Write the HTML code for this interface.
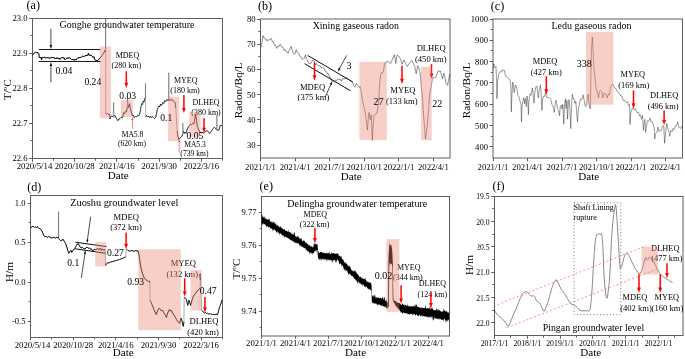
<!DOCTYPE html><html><head><meta charset="utf-8"><style>html,body{margin:0;padding:0;background:#fff}svg{display:block;font-family:"Liberation Serif",serif;will-change:transform}</style></head><body>
<svg width="685" height="359" viewBox="0 0 685 359">
<rect width="685" height="359" fill="#fff"/>
<line x1="32" y1="18.5" x2="223" y2="18.5" stroke="#5e5e5e" stroke-width="1" />
<line x1="32" y1="158.5" x2="223" y2="158.5" stroke="#5e5e5e" stroke-width="1" />
<line x1="32.5" y1="18.5" x2="32.5" y2="158.5" stroke="#5e5e5e" stroke-width="1" />
<line x1="222.5" y1="18.5" x2="222.5" y2="158.5" stroke="#5e5e5e" stroke-width="1" />
<line x1="32.5" y1="158.5" x2="32.5" y2="161.8" stroke="#5e5e5e" stroke-width="1" />
<line x1="74.5" y1="158.5" x2="74.5" y2="161.8" stroke="#5e5e5e" stroke-width="1" />
<line x1="116.5" y1="158.5" x2="116.5" y2="161.8" stroke="#5e5e5e" stroke-width="1" />
<line x1="159.5" y1="158.5" x2="159.5" y2="161.8" stroke="#5e5e5e" stroke-width="1" />
<line x1="201.5" y1="158.5" x2="201.5" y2="161.8" stroke="#5e5e5e" stroke-width="1" />
<line x1="53.5" y1="158.5" x2="53.5" y2="160.7" stroke="#5e5e5e" stroke-width="1" />
<line x1="95.5" y1="158.5" x2="95.5" y2="160.7" stroke="#5e5e5e" stroke-width="1" />
<line x1="138.5" y1="158.5" x2="138.5" y2="160.7" stroke="#5e5e5e" stroke-width="1" />
<line x1="180.5" y1="158.5" x2="180.5" y2="160.7" stroke="#5e5e5e" stroke-width="1" />
<line x1="222.5" y1="158.5" x2="222.5" y2="160.7" stroke="#5e5e5e" stroke-width="1" />
<line x1="32.5" y1="18.5" x2="29.2" y2="18.5" stroke="#5e5e5e" stroke-width="1" />
<line x1="32.5" y1="53.5" x2="29.2" y2="53.5" stroke="#5e5e5e" stroke-width="1" />
<line x1="32.5" y1="88.5" x2="29.2" y2="88.5" stroke="#5e5e5e" stroke-width="1" />
<line x1="32.5" y1="123.5" x2="29.2" y2="123.5" stroke="#5e5e5e" stroke-width="1" />
<line x1="32.5" y1="158.5" x2="29.2" y2="158.5" stroke="#5e5e5e" stroke-width="1" />
<line x1="32.5" y1="35.5" x2="30.3" y2="35.5" stroke="#5e5e5e" stroke-width="1" />
<line x1="32.5" y1="70.5" x2="30.3" y2="70.5" stroke="#5e5e5e" stroke-width="1" />
<line x1="32.5" y1="105.5" x2="30.3" y2="105.5" stroke="#5e5e5e" stroke-width="1" />
<line x1="32.5" y1="140.5" x2="30.3" y2="140.5" stroke="#5e5e5e" stroke-width="1" />
<text x="34.5" y="168.9" font-size="8.8" text-anchor="middle" fill="#000" >2020/5/14</text>
<text x="74.7" y="168.9" font-size="8.8" text-anchor="middle" fill="#000" >2020/10/28</text>
<text x="116.9" y="168.9" font-size="8.8" text-anchor="middle" fill="#000" >2021/4/16</text>
<text x="159.2" y="168.9" font-size="8.8" text-anchor="middle" fill="#000" >2021/9/30</text>
<text x="201.4" y="168.9" font-size="8.8" text-anchor="middle" fill="#000" >2022/3/16</text>
<text x="27.5" y="21.1" font-size="8.6" text-anchor="end" fill="#000" >23.0</text>
<text x="27.5" y="56.1" font-size="8.6" text-anchor="end" fill="#000" >22.9</text>
<text x="27.5" y="91.1" font-size="8.6" text-anchor="end" fill="#000" >22.8</text>
<text x="27.5" y="126" font-size="8.6" text-anchor="end" fill="#000" >22.7</text>
<text x="27.5" y="161" font-size="8.6" text-anchor="end" fill="#000" >22.6</text>
<text x="33.2" y="9.4" font-size="12.2" text-anchor="middle" fill="#000" >(a)</text>
<text x="127" y="28.3" font-size="10" text-anchor="middle" fill="#000" >Gonghe groundwater temperature</text>
<text x="118.2" y="179.1" font-size="11.1" text-anchor="middle" fill="#000" >Date</text>
<text transform="translate(11.3,89.7) rotate(-90)" font-size="11.3" text-anchor="middle">T/<tspan font-size="7" dy="-4">o</tspan><tspan dy="4">C</tspan></text>
<polyline points="32.5,55.3 33.5,54 34.5,52.8 35.2,52.1 36,52.4 37,53 38,52.6 38.8,53.5 39.2,57.3 40,58 41,57 41.5,60 42,57.5 43,58 44,57 45,57.5 46,58.2 47,57.3 48,58 49,57.6 50,58.5 51,57.2 52,58 53,57 54,58.4 55,57.8 56,59 57,57.5 58,58.8 59,57.9 60,59.5 61,58 62,57 63,58.2 64,57.5 65,59.8 66,58.6 67,57.8 68,58.5 69,57.6 70,58 71,58.9 72,60 73,59 74,60.4 75,59 76,60.2 77,58.5 78,57.5 79,58.3 80,57 81,57.8 82,56.5 83,56 84,56.8 85,55.5 86,56 87,54.8 88,55.5 88.5,53.4 89,55 90,55.6 91,54.9 92,56 93,57.5 94,56.6 94.5,59 95,60 96,60.5 97.3,60.8 98,60 99,59.3 100,58" fill="none" stroke="#000" stroke-width="0.33" stroke-linejoin="round" />
<polyline points="32.5,55.3 33.5,54 34.5,52.8 35.2,52.1 36,52.4 37,53 38,52.6 38.8,53.5 39.2,57.3 40,58 41,57 41.5,60 42,57.5 43,58 44,57 45,57.5 46,58.2 47,57.3 48,58 49,57.6 50,58.5 51,57.2 52,58 53,57 54,58.4 55,57.8 56,59 57,57.5 58,58.8 59,57.9 60,59.5 61,58 62,57 63,58.2 64,57.5 65,59.8 66,58.6 67,57.8 68,58.5 69,57.6 70,58 71,58.9 72,60 73,59 74,60.4 75,59 76,60.2 77,58.5 78,57.5 79,58.3 80,57 81,57.8 82,56.5 83,56 84,56.8 85,55.5 86,56 87,54.8 88,55.5 88.5,53.4 89,55 90,55.6 91,54.9 92,56 93,57.5 94,56.6 94.5,59 95,60 96,60.5 97.3,60.8 98,60 99,59.3 100,58" fill="none" stroke="#000" stroke-width="0.9" stroke-linejoin="round" />
<polyline points="100,58 101,57 102,55.5 103,54 104,52.5 105,50.5 105.5,51.5 105.7,18.5 105.8,113.7 106.5,114 107.5,113.5 108.5,114.5 109.6,114 110,119 110.8,116.5 112,116 113.2,117 113.6,102.5 113.9,116.5 115,115.5 116,118 116.9,118.9 117.8,120.7 119,119 120,118.5 121,117.5 122.5,117.7 123.7,112.5 124.5,113.5 125.5,111.5 126.3,112 127.2,108.4 127.6,96.7 127.9,108 128.6,106 129.5,103.7 130,107 131,111 132.4,116 133,115 134.2,117.7 135.5,116.5 136.5,117 137.5,115.5 138.5,116 139.4,114.8 140.2,112 141,107 141.8,103.7 142.5,104.5 143.2,101 144,102 144.6,99 145.3,97.9 145.5,83.5 145.7,116.6 146.5,115.5 147.5,117 148.5,116 149.5,117.5 150.5,116.2 151.5,117.8 152.5,116.5 153.5,117.6 154.5,118.6 155.8,117 156.5,114 157.2,110 158.7,106 159.5,107 160.5,104 161.5,105.5 162.8,102.5 163.8,103.5 164.8,100.5 165.8,101.5 166.9,99.6 167.8,100.5 168.5,99 168.8,72.5 169.1,101 170,99.5 171,100.2 172,99.7 173,101 174,101.5 175.1,102.6 175.8,108 176.5,120 177.2,131 177.8,136 178.7,139.6 179.5,138.5 180.3,137.8 181,137.3 182,136 182.6,134 182.8,123 183.2,131 184,133.6 185,132 186,133.5 187,130 187.8,128 188.6,126.6 189.5,125.5 190.4,124.2 191.5,124.8 192.5,123.5 193.9,123.7 194.6,120 195.6,114.3 196.2,118 196.8,123 197.4,126.6 198.3,129 199.3,131 200.3,132.4 201.5,133 202.5,132 203.5,133.2 205,131.8 206,131 207.3,130.7 208.5,132 209.6,133.6 210.8,132 212,130 213.2,128.5 214.3,127.2 215.5,128.5 216.6,130 216.9,114.9 217.2,130 218,130.5 219,130 219.6,128 220.2,125.4 221,126 222,125" fill="none" stroke="#000" stroke-width="0.33" stroke-linejoin="round" />
<polyline points="100,58 101,57 102,55.5 103,54 104,52.5 105,50.5 105.5,51.5" fill="none" stroke="#000" stroke-width="0.62" stroke-linejoin="round" />
<polyline points="105.8,113.7 106.5,114 107.5,113.5 108.5,114.5 109.6,114 110,119 110.8,116.5 112,116 113.2,117" fill="none" stroke="#000" stroke-width="0.62" stroke-linejoin="round" />
<polyline points="113.9,116.5 115,115.5 116,118 116.9,118.9 117.8,120.7 119,119 120,118.5 121,117.5 122.5,117.7 123.7,112.5 124.5,113.5 125.5,111.5 126.3,112 127.2,108.4" fill="none" stroke="#000" stroke-width="0.62" stroke-linejoin="round" />
<polyline points="127.9,108 128.6,106 129.5,103.7 130,107 131,111 132.4,116 133,115 134.2,117.7 135.5,116.5 136.5,117 137.5,115.5 138.5,116 139.4,114.8 140.2,112 141,107 141.8,103.7 142.5,104.5 143.2,101 144,102 144.6,99 145.3,97.9" fill="none" stroke="#000" stroke-width="0.62" stroke-linejoin="round" />
<polyline points="145.7,116.6 146.5,115.5 147.5,117 148.5,116 149.5,117.5 150.5,116.2 151.5,117.8 152.5,116.5 153.5,117.6 154.5,118.6 155.8,117 156.5,114 157.2,110 158.7,106 159.5,107 160.5,104 161.5,105.5 162.8,102.5 163.8,103.5 164.8,100.5 165.8,101.5 166.9,99.6 167.8,100.5 168.5,99" fill="none" stroke="#000" stroke-width="0.62" stroke-linejoin="round" />
<polyline points="169.1,101 170,99.5 171,100.2 172,99.7 173,101 174,101.5 175.1,102.6 175.8,108" fill="none" stroke="#000" stroke-width="0.62" stroke-linejoin="round" />
<polyline points="177.2,131 177.8,136 178.7,139.6 179.5,138.5 180.3,137.8 181,137.3 182,136 182.6,134" fill="none" stroke="#000" stroke-width="0.62" stroke-linejoin="round" />
<polyline points="183.2,131 184,133.6 185,132 186,133.5 187,130 187.8,128 188.6,126.6 189.5,125.5 190.4,124.2 191.5,124.8 192.5,123.5 193.9,123.7 194.6,120 195.6,114.3 196.2,118 196.8,123 197.4,126.6 198.3,129 199.3,131 200.3,132.4 201.5,133 202.5,132 203.5,133.2 205,131.8 206,131 207.3,130.7 208.5,132 209.6,133.6 210.8,132 212,130 213.2,128.5 214.3,127.2 215.5,128.5 216.6,130" fill="none" stroke="#000" stroke-width="0.62" stroke-linejoin="round" />
<polyline points="217.2,130 218,130.5 219,130 219.6,128 220.2,125.4 221,126 222,125" fill="none" stroke="#000" stroke-width="0.62" stroke-linejoin="round" />
<line x1="38.8" y1="49.5" x2="100.6" y2="49.5" stroke="#000" stroke-width="0.9" />
<line x1="38.8" y1="61.5" x2="100.6" y2="61.5" stroke="#000" stroke-width="0.9" />
<line x1="50.9" y1="28.8" x2="50.9" y2="45.5" stroke="#000" stroke-width="0.7" />
<polygon points="50.9,49 49.7,45 52.1,45" fill="#000"/>
<line x1="50.9" y1="82.2" x2="50.9" y2="65.5" stroke="#000" stroke-width="0.7" />
<polygon points="50.9,62 52.1,66 49.7,66" fill="#000"/>
<text x="127.5" y="58.2" font-size="8" text-anchor="middle" fill="#000" >MDEQ</text>
<text x="126.3" y="68.3" font-size="8" text-anchor="middle" fill="#000" >(280 km)</text>
<line x1="126.3" y1="71.4" x2="126.3" y2="83.3" stroke="#f00" stroke-width="1.5" />
<polygon points="126.3,88 124.4,82.8 128.2,82.8" fill="#f00"/>
<text x="185.7" y="83.1" font-size="8" text-anchor="middle" fill="#000" >MYEQ</text>
<text x="185" y="92.8" font-size="8" text-anchor="middle" fill="#000" >(180 km)</text>
<line x1="183.9" y1="94.9" x2="183.9" y2="108.4" stroke="#f00" stroke-width="1.5" />
<polygon points="183.9,113.1 182,107.9 185.8,107.9" fill="#f00"/>
<text x="206.1" y="104.9" font-size="8" text-anchor="middle" fill="#000" >DLHEQ</text>
<text x="206" y="114.9" font-size="8" text-anchor="middle" fill="#000" >(380 km)</text>
<line x1="204" y1="118.2" x2="204" y2="128.3" stroke="#f00" stroke-width="1.5" />
<polygon points="204,133 202.1,127.8 205.9,127.8" fill="#f00"/>
<text x="132.5" y="137.3" font-size="7.6" text-anchor="middle" fill="#000" >MA5.8</text>
<text x="132" y="146.3" font-size="7.6" text-anchor="middle" fill="#000" >(620 km)</text>
<line x1="132.4" y1="128.9" x2="132.4" y2="119.5" stroke="#f33" stroke-width="0.6" />
<polygon points="132.4,117 133.3,120 131.5,120" fill="#f33"/>
<text x="195" y="146.5" font-size="7.6" text-anchor="middle" fill="#000" >MA5.3</text>
<text x="194.4" y="155.5" font-size="7.6" text-anchor="middle" fill="#000" >(739 km)</text>
<line x1="179.2" y1="152.5" x2="179.2" y2="141.5" stroke="#f33" stroke-width="0.6" />
<polygon points="179.2,139 180.1,142 178.3,142" fill="#f33"/>
<rect x="99.8" y="46.5" width="11.1" height="71.8" fill="rgba(238,135,118,0.4)"/>
<rect x="121" y="100" width="11.8" height="16.9" fill="rgba(238,135,118,0.4)"/>
<rect x="168.1" y="96.9" width="11.1" height="44.2" fill="rgba(238,135,118,0.4)"/>
<rect x="189.2" y="112.3" width="11.4" height="24.5" fill="rgba(238,135,118,0.4)"/>
<text x="64" y="74.2" font-size="9.6" text-anchor="middle" fill="#000" >0.04</text>
<text x="92.8" y="84.5" font-size="9.6" text-anchor="middle" fill="#000" >0.24</text>
<text x="127.7" y="98.5" font-size="9.6" text-anchor="middle" fill="#000" >0.03</text>
<text x="166.3" y="120.8" font-size="9.6" text-anchor="middle" fill="#000" >0.1</text>
<text x="195" y="138.5" font-size="9.6" text-anchor="middle" fill="#000" >0.05</text>
<line x1="260" y1="19" x2="450.5" y2="19" stroke="#5e5e5e" stroke-width="1" />
<line x1="260" y1="158" x2="450.5" y2="158" stroke="#5e5e5e" stroke-width="1" />
<line x1="260.5" y1="19" x2="260.5" y2="158" stroke="#5e5e5e" stroke-width="1" />
<line x1="450" y1="19" x2="450" y2="158" stroke="#5e5e5e" stroke-width="1" />
<line x1="260.5" y1="158" x2="260.5" y2="161.3" stroke="#5e5e5e" stroke-width="1" />
<line x1="295.5" y1="158" x2="295.5" y2="161.3" stroke="#5e5e5e" stroke-width="1" />
<line x1="329.5" y1="158" x2="329.5" y2="161.3" stroke="#5e5e5e" stroke-width="1" />
<line x1="364.5" y1="158" x2="364.5" y2="161.3" stroke="#5e5e5e" stroke-width="1" />
<line x1="398.5" y1="158" x2="398.5" y2="161.3" stroke="#5e5e5e" stroke-width="1" />
<line x1="433.5" y1="158" x2="433.5" y2="161.3" stroke="#5e5e5e" stroke-width="1" />
<line x1="260.5" y1="19.5" x2="257.2" y2="19.5" stroke="#5e5e5e" stroke-width="1" />
<line x1="260.5" y1="44.5" x2="257.2" y2="44.5" stroke="#5e5e5e" stroke-width="1" />
<line x1="260.5" y1="69.5" x2="257.2" y2="69.5" stroke="#5e5e5e" stroke-width="1" />
<line x1="260.5" y1="94.5" x2="257.2" y2="94.5" stroke="#5e5e5e" stroke-width="1" />
<line x1="260.5" y1="119.5" x2="257.2" y2="119.5" stroke="#5e5e5e" stroke-width="1" />
<line x1="260.5" y1="145.5" x2="257.2" y2="145.5" stroke="#5e5e5e" stroke-width="1" />
<line x1="260.5" y1="31.5" x2="258.3" y2="31.5" stroke="#5e5e5e" stroke-width="1" />
<line x1="260.5" y1="56.5" x2="258.3" y2="56.5" stroke="#5e5e5e" stroke-width="1" />
<line x1="260.5" y1="82.5" x2="258.3" y2="82.5" stroke="#5e5e5e" stroke-width="1" />
<line x1="260.5" y1="107.5" x2="258.3" y2="107.5" stroke="#5e5e5e" stroke-width="1" />
<line x1="260.5" y1="132.5" x2="258.3" y2="132.5" stroke="#5e5e5e" stroke-width="1" />
<text x="260.5" y="170" font-size="8.7" text-anchor="middle" fill="#000" >2021/1/1</text>
<text x="295.1" y="170" font-size="8.7" text-anchor="middle" fill="#000" >2021/4/1</text>
<text x="329.7" y="170" font-size="8.7" text-anchor="middle" fill="#000" >2021/7/1</text>
<text x="364.2" y="170" font-size="8.7" text-anchor="middle" fill="#000" >2021/10/1</text>
<text x="398.8" y="170" font-size="8.7" text-anchor="middle" fill="#000" >2022/1/1</text>
<text x="433.4" y="170" font-size="8.7" text-anchor="middle" fill="#000" >2022/4/1</text>
<text x="255.5" y="21.8" font-size="8.6" text-anchor="end" fill="#000" >80</text>
<text x="255.5" y="47.1" font-size="8.6" text-anchor="end" fill="#000" >70</text>
<text x="255.5" y="72.3" font-size="8.6" text-anchor="end" fill="#000" >60</text>
<text x="255.5" y="97.6" font-size="8.6" text-anchor="end" fill="#000" >50</text>
<text x="255.5" y="122.8" font-size="8.6" text-anchor="end" fill="#000" >40</text>
<text x="255.5" y="148" font-size="8.6" text-anchor="end" fill="#000" >30</text>
<text x="265" y="9.6" font-size="12.2" text-anchor="middle" fill="#000" >(b)</text>
<text x="355.8" y="28.8" font-size="9.9" text-anchor="middle" fill="#000" >Xining gaseous radon</text>
<text x="351.2" y="179.6" font-size="11.1" text-anchor="middle" fill="#000" >Date</text>
<text transform="translate(241.6,90.3) rotate(-90)" font-size="11.3" text-anchor="middle">Radon/Bq/L</text>
<polyline points="261.5,46.9 262.2,40 263,35.6 263.9,38.1 264.9,37.9 266.2,40.7 267.1,39.5 268,40.9 269.2,39.1 270.2,39.4 271.3,38.4 272.5,42 273.4,42 274.7,45.6 275.7,45.5 276.7,48.4 277.7,46.3 278.9,46.7 280.2,44.2 281.5,46.8 282.7,46.9 283.9,50.4 285.1,49.5 286,51.4 287.1,51.8 288.1,53.3 289.1,50.7 290.2,48 291.2,46.4 292.6,52 293.8,53.9 295.1,53.8 296.2,49.6 297.4,52.3 298.6,53 299.9,56.3 300.8,56.6 301.9,58.8 303.2,59 304.3,58.3 305.4,54.7 306.5,59.1 307.5,60.1 308.6,63.2 309.9,63.5 310.9,63.5 312.1,60.6 313,60.1 314.2,61.1 315.3,64.9 316.4,63.5 317.6,65.3 318.9,66.1 320.2,65.8 321.3,68.1 322.6,67.5 323.7,67.9 325.1,70.9 326.1,71.2 327.1,73.5 328.4,73.5 329.6,77.3 330.6,77.3 331.8,81 332.9,81 334,82.2 335.4,80 336.7,80.7 337.6,78.9 339,79.7 340.1,78.9 341.4,81.3 342.4,78.4 343.5,79 344.9,78.5 345.9,78.6 347.2,77.7 348.2,79.4 349.4,80.3 350.6,80.6 351.6,81.9 352.8,82.8 353.8,86.2 355,87 356.4,83.4 357.3,84.6 358.5,86.6 359.5,87.6 360,86.4 361,90 361.7,95 363,103 365.3,112.5 366.3,120 367.5,130 368.2,120 369,112.5 370.4,119.8 371.2,114.7 371.8,128 372.3,140.3 373,128 374,115.4 375.5,114 377,113.2 377.8,108 378.5,103.8 379,95 379.5,85 380,79.8 381.2,72.5 382.3,73 383.4,71.8 384.2,66 384.9,63 386,62.5 387,61 388.5,62 390.7,63.5 392.5,59 394.3,54.7 395.1,59 395.8,63.5 396.5,58 397.2,54.7 398.6,56 400.1,58.4 401.2,61 402.3,64.2 403.8,59.8 405.5,63 407.4,66.4 409.5,63 411.8,60.5 413.2,63 414.7,66.4 416.2,73.7 417.7,65.7 418.8,68 419.9,71.5 420.6,78 421.3,87 422.3,95 423.7,116.9 424.6,128 425.5,138.8 426.4,132 427.4,124.2 428.5,110 429.6,95 430.5,90 431.5,84.6 432.2,80 433,77.3 434.5,78 435.9,77.3 437,74 438.1,70.8 439.2,71.5 440.3,70.8 441.4,74.5 442.5,78.8 443.2,76 443.9,73 445,78 446.1,83.2 447.6,85.4 448.7,79 449.8,73.7" fill="none" stroke="#333" stroke-width="0.55" stroke-linejoin="round" />
<line x1="307.6" y1="55.4" x2="352.8" y2="82" stroke="#000" stroke-width="0.95" />
<line x1="304.6" y1="63.7" x2="350.6" y2="90.8" stroke="#000" stroke-width="0.95" />
<line x1="346.7" y1="55.4" x2="339.3" y2="68.8" stroke="#000" stroke-width="0.7" />
<polygon points="337.9,71.4 338.6,67.8 340.6,68.9" fill="#000"/>
<line x1="325" y1="97.3" x2="331.1" y2="84" stroke="#000" stroke-width="0.7" />
<polygon points="332.3,81.3 331.8,84.9 329.8,84" fill="#000"/>
<line x1="314.5" y1="62.2" x2="314.5" y2="75.8" stroke="#f00" stroke-width="1.5" />
<polygon points="314.5,80.5 312.6,75.3 316.4,75.3" fill="#f00"/>
<text x="312.6" y="89.6" font-size="8.6" text-anchor="middle" fill="#000" >MDEQ</text>
<text x="313.4" y="100.4" font-size="8.6" text-anchor="middle" fill="#000" >(375 km)</text>
<line x1="402" y1="65.7" x2="402" y2="79.2" stroke="#f00" stroke-width="1.5" />
<polygon points="402,83.9 400.1,78.7 403.9,78.7" fill="#f00"/>
<text x="402.9" y="93" font-size="8.6" text-anchor="middle" fill="#000" >MYEQ</text>
<text x="401.8" y="103.7" font-size="8.6" text-anchor="middle" fill="#000" >(133 km)</text>
<text x="431.2" y="51.2" font-size="8.6" text-anchor="middle" fill="#000" >DLHEQ</text>
<text x="430.8" y="62.3" font-size="8.6" text-anchor="middle" fill="#000" >(450 km)</text>
<line x1="431.5" y1="64.2" x2="431.5" y2="74.1" stroke="#f00" stroke-width="1.5" />
<polygon points="431.5,78.8 429.6,73.6 433.4,73.6" fill="#f00"/>
<rect x="359.4" y="61.8" width="27.4" height="78.3" fill="rgba(238,135,118,0.4)"/>
<rect x="421" y="66.8" width="10.7" height="73.5" fill="rgba(238,135,118,0.4)"/>
<text x="349" y="68.8" font-size="10" text-anchor="middle" fill="#000" >3</text>
<text x="378.6" y="104.7" font-size="10" text-anchor="middle" fill="#000" >27</text>
<text x="437.2" y="106.8" font-size="10" text-anchor="middle" fill="#000" >22</text>
<line x1="492.5" y1="19" x2="683" y2="19" stroke="#5e5e5e" stroke-width="1" />
<line x1="492.5" y1="158" x2="683" y2="158" stroke="#5e5e5e" stroke-width="1" />
<line x1="493" y1="19" x2="493" y2="158" stroke="#5e5e5e" stroke-width="1" />
<line x1="682.5" y1="19" x2="682.5" y2="158" stroke="#5e5e5e" stroke-width="1" />
<line x1="493.5" y1="158" x2="493.5" y2="161.3" stroke="#5e5e5e" stroke-width="1" />
<line x1="527.5" y1="158" x2="527.5" y2="161.3" stroke="#5e5e5e" stroke-width="1" />
<line x1="562.5" y1="158" x2="562.5" y2="161.3" stroke="#5e5e5e" stroke-width="1" />
<line x1="596.5" y1="158" x2="596.5" y2="161.3" stroke="#5e5e5e" stroke-width="1" />
<line x1="631.5" y1="158" x2="631.5" y2="161.3" stroke="#5e5e5e" stroke-width="1" />
<line x1="665.5" y1="158" x2="665.5" y2="161.3" stroke="#5e5e5e" stroke-width="1" />
<line x1="493" y1="19.5" x2="489.7" y2="19.5" stroke="#5e5e5e" stroke-width="1" />
<line x1="493" y1="40.5" x2="489.7" y2="40.5" stroke="#5e5e5e" stroke-width="1" />
<line x1="493" y1="61.5" x2="489.7" y2="61.5" stroke="#5e5e5e" stroke-width="1" />
<line x1="493" y1="82.5" x2="489.7" y2="82.5" stroke="#5e5e5e" stroke-width="1" />
<line x1="493" y1="104.5" x2="489.7" y2="104.5" stroke="#5e5e5e" stroke-width="1" />
<line x1="493" y1="125.5" x2="489.7" y2="125.5" stroke="#5e5e5e" stroke-width="1" />
<line x1="493" y1="146.5" x2="489.7" y2="146.5" stroke="#5e5e5e" stroke-width="1" />
<line x1="493" y1="29.5" x2="490.8" y2="29.5" stroke="#5e5e5e" stroke-width="1" />
<line x1="493" y1="50.5" x2="490.8" y2="50.5" stroke="#5e5e5e" stroke-width="1" />
<line x1="493" y1="72.5" x2="490.8" y2="72.5" stroke="#5e5e5e" stroke-width="1" />
<line x1="493" y1="93.5" x2="490.8" y2="93.5" stroke="#5e5e5e" stroke-width="1" />
<line x1="493" y1="114.5" x2="490.8" y2="114.5" stroke="#5e5e5e" stroke-width="1" />
<line x1="493" y1="136.5" x2="490.8" y2="136.5" stroke="#5e5e5e" stroke-width="1" />
<text x="493" y="170" font-size="8.7" text-anchor="middle" fill="#000" >2021/1/1</text>
<text x="527.5" y="170" font-size="8.7" text-anchor="middle" fill="#000" >2021/4/1</text>
<text x="562" y="170" font-size="8.7" text-anchor="middle" fill="#000" >2021/7/1</text>
<text x="596.5" y="170" font-size="8.7" text-anchor="middle" fill="#000" >2021/10/1</text>
<text x="631" y="170" font-size="8.7" text-anchor="middle" fill="#000" >2022/1/1</text>
<text x="665.5" y="170" font-size="8.7" text-anchor="middle" fill="#000" >2022/4/1</text>
<text x="488" y="21.8" font-size="8.6" text-anchor="end" fill="#000" >1000</text>
<text x="488" y="43.2" font-size="8.6" text-anchor="end" fill="#000" >900</text>
<text x="488" y="64.5" font-size="8.6" text-anchor="end" fill="#000" >800</text>
<text x="488" y="85.8" font-size="8.6" text-anchor="end" fill="#000" >700</text>
<text x="488" y="107.2" font-size="8.6" text-anchor="end" fill="#000" >600</text>
<text x="488" y="128.5" font-size="8.6" text-anchor="end" fill="#000" >500</text>
<text x="488" y="149.8" font-size="8.6" text-anchor="end" fill="#000" >400</text>
<text x="497.5" y="9.6" font-size="12.2" text-anchor="middle" fill="#000" >(c)</text>
<text x="591.5" y="29.3" font-size="10" text-anchor="middle" fill="#000" >Ledu gaseous radon</text>
<text x="588.8" y="180.2" font-size="11.1" text-anchor="middle" fill="#000" >Date</text>
<text transform="translate(469.7,90.3) rotate(-90)" font-size="11.3" text-anchor="middle">Radon/Bq/L</text>
<polyline points="493,70 493.8,63.9 495,67.9 496,66.6 496.6,80 497,98.8 497.5,82 498.9,73.4 500,71.6 501.5,72.1 502.4,69.5 503.2,70.7 504.5,70.4 505.5,76.3 506.9,76.8 508.3,78.6 509.8,79.4 510.8,84.8 511.3,111.8 511.9,95 512.7,82 513.5,85.8 514.2,92.7 515,86.5 515.7,85 516.8,88.2 518,95.6 519.3,97.4 520.3,102.7 521,104.5 521.5,122 522,106 522.8,101.7 523.7,97.6 524.5,103.7 525.3,98.5 526.2,106.5 527,96 527.8,101.2 528.4,114.7 529,100 530,93.8 531,95.3 532.4,87.9 533.2,95 534,103 534.8,92 535.8,87.1 536.8,85.9 537.5,92 538.3,97.8 539.3,89 540.5,84.8 541.2,95 541.9,110.3 542.6,100 543.5,96.2 544.5,96.6 545.6,92.4 546.8,97.7 548,97.4 549.3,97.9 550.7,99.4 552,104.7 553.2,107.3 554.3,112.4 555.2,103.1 556,100.2 556.8,104.5 557.8,109.3 558.6,110.1 559.5,115.6 560.3,106.5 561.2,105.1 562,109.1 562.8,104.1 563.8,124.2 564.5,106 565.3,98.7 566.2,108.6 566.9,100.3 567.5,119 568.3,104 569,99.5 569.8,108 570.7,128.6 571.5,108 572.2,94.2 573.3,98.6 574,98.5 575,103.5 575.8,101.4 576.6,111.7 577.5,122 578.3,110 579.6,103.1 580.5,99.2 581.8,99.5 583.1,94.8 584,99.3 585,105.6 586,106.6 587,101.4 588.2,94.1 589,103.6 589.7,107.9 590.4,108.9 590.9,75 591.5,50 592.3,37 593,50 594,68 595,78 596.3,89.8 597.3,91.9 598.5,97.8 599.5,91.4 600.7,90.4 601.8,91.5 602.8,97.9 603.9,93.4 605,93.6 606,94.4 607.2,98 608.3,93.8 609.4,95.1 610.5,87.1 611.6,84.8 613,84.3 614.5,87.9 616,88.6 617.5,91.7 619,92.9 620.5,95.7 622,96.2 623.5,100.7 625,100.3 626.5,102.6 627.5,101.5 628.4,105.5 629.5,104.5 630,124.4 630.6,114.6 631.2,110.8 632.5,107.8 634,109.9 635.5,108.4 637,112.5 638.5,112.4 639.5,116 640.5,115.2 641.5,119.1 642.5,115.5 643.4,130.3 644.2,123.7 644.9,119.4 645.6,132.4 646.4,126.6 647.5,120.7 648.8,121.4 650,118 651.2,122 652.4,121.8 653.6,125.9 654.3,129.1 654.8,139 655.3,134 655.8,133.7 656.9,132.5 658,127.1 659.1,131.5 660.2,130.6 661.4,130.4 662.6,125.9 663.8,126 664.6,143.3 665.3,136 666.1,128 666.8,123.4 667.8,128.7 668.8,131 669.7,136.3 670.8,130.3 672,131.8 673,128.4 674,129.7 675.2,125.9 676.5,125.8 677.7,121.6 678.8,127.5 679.9,127.9 681,128.4 682,125.9" fill="none" stroke="#333" stroke-width="0.5" stroke-linejoin="round" />
<text x="545.1" y="63.9" font-size="8.4" text-anchor="middle" fill="#000" >MDEQ</text>
<text x="546.3" y="75" font-size="8.4" text-anchor="middle" fill="#000" >(427 km)</text>
<line x1="546.3" y1="76.2" x2="546.3" y2="89.7" stroke="#f00" stroke-width="1.5" />
<polygon points="546.3,94.4 544.4,89.2 548.2,89.2" fill="#f00"/>
<text x="632.8" y="76.8" font-size="8.4" text-anchor="middle" fill="#000" >MYEQ</text>
<text x="633.8" y="87.5" font-size="8.4" text-anchor="middle" fill="#000" >(169 km)</text>
<line x1="633.5" y1="90.5" x2="633.5" y2="103.8" stroke="#f00" stroke-width="1.5" />
<polygon points="633.5,108.5 631.6,103.3 635.4,103.3" fill="#f00"/>
<text x="664.1" y="98.3" font-size="8.4" text-anchor="middle" fill="#000" >DLHEQ</text>
<text x="663.1" y="109" font-size="8.4" text-anchor="middle" fill="#000" >(496 km)</text>
<line x1="664.1" y1="110.5" x2="664.1" y2="120.4" stroke="#f00" stroke-width="1.5" />
<polygon points="664.1,125.1 662.2,119.9 666,119.9" fill="#f00"/>
<rect x="586" y="32" width="27.4" height="72.7" fill="rgba(238,135,118,0.4)"/>
<text x="584.2" y="67" font-size="10" text-anchor="middle" fill="#000" >338</text>
<line x1="30" y1="195.5" x2="223" y2="195.5" stroke="#5e5e5e" stroke-width="1" />
<line x1="30" y1="337.5" x2="223" y2="337.5" stroke="#5e5e5e" stroke-width="1" />
<line x1="30.5" y1="195.5" x2="30.5" y2="337.5" stroke="#5e5e5e" stroke-width="1" />
<line x1="222.5" y1="195.5" x2="222.5" y2="337.5" stroke="#5e5e5e" stroke-width="1" />
<line x1="30.5" y1="337.5" x2="30.5" y2="340.2" stroke="#5e5e5e" stroke-width="1" />
<line x1="73.5" y1="337.5" x2="73.5" y2="340.2" stroke="#5e5e5e" stroke-width="1" />
<line x1="115.5" y1="337.5" x2="115.5" y2="340.2" stroke="#5e5e5e" stroke-width="1" />
<line x1="158.5" y1="337.5" x2="158.5" y2="340.2" stroke="#5e5e5e" stroke-width="1" />
<line x1="201.5" y1="337.5" x2="201.5" y2="340.2" stroke="#5e5e5e" stroke-width="1" />
<line x1="51.5" y1="337.5" x2="51.5" y2="339.3" stroke="#5e5e5e" stroke-width="1" />
<line x1="94.5" y1="337.5" x2="94.5" y2="339.3" stroke="#5e5e5e" stroke-width="1" />
<line x1="137.5" y1="337.5" x2="137.5" y2="339.3" stroke="#5e5e5e" stroke-width="1" />
<line x1="179.5" y1="337.5" x2="179.5" y2="339.3" stroke="#5e5e5e" stroke-width="1" />
<line x1="222.5" y1="337.5" x2="222.5" y2="339.3" stroke="#5e5e5e" stroke-width="1" />
<line x1="30.5" y1="203.5" x2="27.8" y2="203.5" stroke="#5e5e5e" stroke-width="1" />
<line x1="30.5" y1="242.5" x2="27.8" y2="242.5" stroke="#5e5e5e" stroke-width="1" />
<line x1="30.5" y1="282.5" x2="27.8" y2="282.5" stroke="#5e5e5e" stroke-width="1" />
<line x1="30.5" y1="321.5" x2="27.8" y2="321.5" stroke="#5e5e5e" stroke-width="1" />
<line x1="30.5" y1="222.5" x2="28.7" y2="222.5" stroke="#5e5e5e" stroke-width="1" />
<line x1="30.5" y1="262.5" x2="28.7" y2="262.5" stroke="#5e5e5e" stroke-width="1" />
<line x1="30.5" y1="301.5" x2="28.7" y2="301.5" stroke="#5e5e5e" stroke-width="1" />
<text x="32.5" y="347.9" font-size="8.8" text-anchor="middle" fill="#000" >2020/5/14</text>
<text x="73.2" y="347.9" font-size="8.8" text-anchor="middle" fill="#000" >2020/10/28</text>
<text x="115.8" y="347.9" font-size="8.8" text-anchor="middle" fill="#000" >2021/4/16</text>
<text x="158.5" y="347.9" font-size="8.8" text-anchor="middle" fill="#000" >2021/9/30</text>
<text x="201.2" y="347.9" font-size="8.8" text-anchor="middle" fill="#000" >2022/3/16</text>
<text x="25.5" y="205.8" font-size="8.6" text-anchor="end" fill="#000" >1.0</text>
<text x="25.5" y="245.3" font-size="8.6" text-anchor="end" fill="#000" >0.5</text>
<text x="25.5" y="284.8" font-size="8.6" text-anchor="end" fill="#000" >0.0</text>
<text x="25.5" y="324.3" font-size="8.6" text-anchor="end" fill="#000" >-0.5</text>
<text x="34.3" y="191.1" font-size="12.2" text-anchor="middle" fill="#000" >(d)</text>
<text x="124.3" y="205.9" font-size="10.3" text-anchor="middle" fill="#000" >Zuoshu groundwater level</text>
<text x="123.3" y="356.3" font-size="11.1" text-anchor="middle" fill="#000" >Date</text>
<text transform="translate(12.5,272) rotate(-90)" font-size="11.3" text-anchor="middle">H/m</text>
<polyline points="30.7,227.6 32,227 32.8,226.2 33.5,226.5 34.4,227.3 35.2,226.9 36.5,227.5 37.2,226.6 38,227.2 38.8,228.4 39.5,228.5 40.2,228.6 41,229.8 42,231 43,233.5 44,235.7 44.8,236.7 45.5,236.5 46.2,236.3 47,237 47.8,237.4 48.5,236.6 49.2,236.4 50,237.5 51.3,237.8 52.1,238.2 53,237.2 53.8,237.2 54.5,238 55.2,238.2 56,237.5 56.9,237.3 57.8,237.8 58.5,238 58.6,211.6 58.7,238.5 59.5,239.5 60.8,240.8 62,240 63,239.3 64,241 65,242.5 65.9,244.4 66.8,247 67.8,250.5 68.8,253.2 69.8,251.5 71,250.3 71.7,252.4 72.8,250.5 74,249 74.7,248.9 75.4,247.3 76.5,245.5 77.4,244 78.3,243.7 79.3,245.5 80.2,247 81.2,248 82.5,247.5 83.7,248.5 84.9,248.8 86,248 86.8,247.1 87.5,247.5 88.3,248.1 89.2,248 90.5,249 91.2,248.6 92,249.8 92.8,250.8 93.6,250.3 94.3,249.3 95,249.5 95.8,249.9 96.5,249 97.2,248.5 98,248.8 98.8,249.5 99.5,249.6 100.5,248 101.6,250.3 102.3,249.3 103,249.5 103.8,250 104.5,249.8 105.3,249.6" fill="none" stroke="#000" stroke-width="0.33" stroke-linejoin="round" />
<polyline points="30.7,227.6 32,227 32.8,226.2 33.5,226.5 34.4,227.3 35.2,226.9 36.5,227.5 37.2,226.6 38,227.2 38.8,228.4 39.5,228.5 40.2,228.6 41,229.8 42,231 43,233.5 44,235.7 44.8,236.7 45.5,236.5 46.2,236.3 47,237 47.8,237.4 48.5,236.6 49.2,236.4 50,237.5 51.3,237.8 52.1,238.2 53,237.2 53.8,237.2 54.5,238 55.2,238.2 56,237.5 56.9,237.3 57.8,237.8 58.5,238" fill="none" stroke="#000" stroke-width="0.9" stroke-linejoin="round" />
<polyline points="58.7,238.5 59.5,239.5 60.8,240.8 62,240 63,239.3 64,241 65,242.5 65.9,244.4 66.8,247 67.8,250.5 68.8,253.2 69.8,251.5 71,250.3 71.7,252.4 72.8,250.5 74,249 74.7,248.9 75.4,247.3 76.5,245.5 77.4,244 78.3,243.7 79.3,245.5 80.2,247 81.2,248 82.5,247.5 83.7,248.5 84.9,248.8 86,248 86.8,247.1 87.5,247.5 88.3,248.1 89.2,248 90.5,249 91.2,248.6 92,249.8 92.8,250.8 93.6,250.3 94.3,249.3 95,249.5 95.8,249.9 96.5,249 97.2,248.5 98,248.8 98.8,249.5 99.5,249.6 100.5,248 101.6,250.3 102.3,249.3 103,249.5 103.8,250 104.5,249.8 105.3,249.6" fill="none" stroke="#000" stroke-width="0.9" stroke-linejoin="round" />
<polyline points="105.3,249.6 105.5,265.7 106.5,264 107.6,262.7 109,263 110.5,262 112,261.8 113.4,261.3 115,260.8 116.5,260.5 118,260 119.5,259.5 120.7,259 122,258.5 123.5,258 125,257.3 125.8,256.9 126.2,248.9 127,249.5 128,250.5 129.5,251 131,250.8 132,250.4 133,251 134,251.5 135,250.9 136,250.4 137,251 138.2,251 138.8,254 139.7,259.8 140.5,265 141.2,269 141.9,271.5 143,275 144,277.5 145.5,279.5 147,280.5 148.5,281.5 149.3,281 149.9,282.4 150.1,300.3 150.6,301.5 151.2,302.2 152,304.6 153,307 154,309.5 155,312 156.3,314.6 157,312 158,310 159.2,308 160.5,309.5 161.5,311 162.5,310 163.5,312.5 164.5,314 165.5,315.5 166.5,317.5 167.2,314 168.2,312 169.4,309.5 170.5,311 171.5,310.5 172.5,313 173.5,314.5 174.5,316 175.5,317.5 176.5,319.5 177.5,321 178.5,322 179.6,323.4 180.3,320.5 181.1,318.2 182,321 182.7,324 183.3,326.3 183.9,322 184.2,297.3 185,298 186.2,298.8 187,302 187.7,305.4 188.4,302.5 189.1,300.3 189.9,303 190.6,305.4 191.5,302 192.5,298.5 193.3,296.5 194.2,295.1 195.2,294 196.2,292 197,291.5 197.9,290.8 198.8,289.5 199.5,288.5 200,287.8 200.3,280 199.8,274 200.6,273.5 201,290 201.5,310.2 202.5,311 203.5,312 204.5,313.1 205.5,312.5 206.5,313.5 207.5,313.2 208.8,314.2 210,313.5 211,314.5 212,313.8 213,314.8 214,314 215,315 216,314.2 217.6,314.6 218.3,312 219,308.8 220,306 221.2,302.9 222,300" fill="none" stroke="#000" stroke-width="0.33" stroke-linejoin="round" />
<polyline points="105.5,265.7 106.5,264 107.6,262.7 109,263 110.5,262 112,261.8 113.4,261.3 115,260.8 116.5,260.5 118,260 119.5,259.5 120.7,259 122,258.5 123.5,258 125,257.3 125.8,256.9" fill="none" stroke="#000" stroke-width="0.8" stroke-linejoin="round" />
<polyline points="126.2,248.9 127,249.5 128,250.5 129.5,251 131,250.8 132,250.4 133,251 134,251.5 135,250.9 136,250.4 137,251 138.2,251 138.8,254 139.7,259.8 140.5,265 141.2,269 141.9,271.5 143,275 144,277.5 145.5,279.5 147,280.5 148.5,281.5 149.3,281 149.9,282.4" fill="none" stroke="#000" stroke-width="0.8" stroke-linejoin="round" />
<polyline points="150.1,300.3 150.6,301.5 151.2,302.2 152,304.6 153,307 154,309.5 155,312 156.3,314.6 157,312 158,310 159.2,308 160.5,309.5 161.5,311 162.5,310 163.5,312.5 164.5,314 165.5,315.5 166.5,317.5 167.2,314 168.2,312 169.4,309.5 170.5,311 171.5,310.5 172.5,313 173.5,314.5 174.5,316 175.5,317.5 176.5,319.5 177.5,321 178.5,322 179.6,323.4 180.3,320.5 181.1,318.2 182,321 182.7,324 183.3,326.3 183.9,322" fill="none" stroke="#000" stroke-width="0.8" stroke-linejoin="round" />
<polyline points="184.2,297.3 185,298 186.2,298.8 187,302 187.7,305.4 188.4,302.5 189.1,300.3 189.9,303 190.6,305.4 191.5,302 192.5,298.5 193.3,296.5 194.2,295.1 195.2,294 196.2,292 197,291.5 197.9,290.8 198.8,289.5 199.5,288.5 200,287.8" fill="none" stroke="#000" stroke-width="0.8" stroke-linejoin="round" />
<polyline points="200.3,280 199.8,274 200.6,273.5" fill="none" stroke="#000" stroke-width="0.8" stroke-linejoin="round" />
<polyline points="201.5,310.2 202.5,311 203.5,312 204.5,313.1 205.5,312.5 206.5,313.5 207.5,313.2 208.8,314.2 210,313.5 211,314.5 212,313.8 213,314.8 214,314 215,315 216,314.2 217.6,314.6 218.3,312 219,308.8 220,306 221.2,302.9 222,300" fill="none" stroke="#000" stroke-width="0.8" stroke-linejoin="round" />
<line x1="75.4" y1="242.2" x2="106.5" y2="246.6" stroke="#000" stroke-width="0.95" />
<line x1="75.4" y1="248.8" x2="105.3" y2="253.2" stroke="#000" stroke-width="0.95" />
<line x1="90.7" y1="216.7" x2="87.4" y2="240" stroke="#000" stroke-width="0.7" />
<polygon points="87,243 86.4,239.4 88.6,239.7" fill="#000"/>
<line x1="81.3" y1="278" x2="85" y2="253.3" stroke="#000" stroke-width="0.7" />
<polygon points="85.4,250.3 86,253.9 83.8,253.6" fill="#000"/>
<text x="126.2" y="220.2" font-size="8.6" text-anchor="middle" fill="#000" >MDEQ</text>
<text x="126" y="230.4" font-size="8.6" text-anchor="middle" fill="#000" >(372 km)</text>
<line x1="126.1" y1="232.4" x2="126.1" y2="244.2" stroke="#f00" stroke-width="1.5" />
<polygon points="126.1,248.9 124.2,243.7 128,243.7" fill="#f00"/>
<text x="183.3" y="265.8" font-size="8.6" text-anchor="middle" fill="#000" >MYEQ</text>
<text x="182.3" y="276.8" font-size="8.6" text-anchor="middle" fill="#000" >(132 km)</text>
<line x1="184.7" y1="278.4" x2="184.7" y2="291.9" stroke="#f00" stroke-width="1.5" />
<polygon points="184.7,296.6 182.8,291.4 186.6,291.4" fill="#f00"/>
<line x1="204.9" y1="297" x2="204.9" y2="307.7" stroke="#f00" stroke-width="1.5" />
<polygon points="204.9,312.4 203,307.2 206.8,307.2" fill="#f00"/>
<text x="204" y="324.4" font-size="8.6" text-anchor="middle" fill="#000" >DLHEQ</text>
<text x="203" y="335.2" font-size="8.6" text-anchor="middle" fill="#000" >(420 km)</text>
<rect x="95.2" y="242.1" width="10.9" height="24.3" fill="rgba(238,135,118,0.4)"/>
<rect x="138.2" y="249.3" width="42.6" height="80.9" fill="rgba(238,135,118,0.4)"/>
<rect x="190.6" y="270" width="11" height="40.5" fill="rgba(238,135,118,0.4)"/>
<text x="73.2" y="265.6" font-size="9.6" text-anchor="middle" fill="#000" >0.1</text>
<text x="115.4" y="256" font-size="9.6" text-anchor="middle" fill="#000" >0.27</text>
<text x="135.6" y="285.2" font-size="9.6" text-anchor="middle" fill="#000" >0.93</text>
<text x="208.1" y="294" font-size="9.6" text-anchor="middle" fill="#000" >0.47</text>
<line x1="261" y1="196.5" x2="450" y2="196.5" stroke="#5e5e5e" stroke-width="1" />
<line x1="261" y1="336" x2="450" y2="336" stroke="#5e5e5e" stroke-width="1" />
<line x1="261.5" y1="196.5" x2="261.5" y2="336" stroke="#5e5e5e" stroke-width="1" />
<line x1="449.5" y1="196.5" x2="449.5" y2="336" stroke="#5e5e5e" stroke-width="1" />
<line x1="261.5" y1="336" x2="261.5" y2="338.7" stroke="#5e5e5e" stroke-width="1" />
<line x1="295.5" y1="336" x2="295.5" y2="338.7" stroke="#5e5e5e" stroke-width="1" />
<line x1="328.5" y1="336" x2="328.5" y2="338.7" stroke="#5e5e5e" stroke-width="1" />
<line x1="361.5" y1="336" x2="361.5" y2="338.7" stroke="#5e5e5e" stroke-width="1" />
<line x1="395.5" y1="336" x2="395.5" y2="338.7" stroke="#5e5e5e" stroke-width="1" />
<line x1="428.5" y1="336" x2="428.5" y2="338.7" stroke="#5e5e5e" stroke-width="1" />
<line x1="261.5" y1="212.5" x2="258.8" y2="212.5" stroke="#5e5e5e" stroke-width="1" />
<line x1="261.5" y1="245.5" x2="258.8" y2="245.5" stroke="#5e5e5e" stroke-width="1" />
<line x1="261.5" y1="278.5" x2="258.8" y2="278.5" stroke="#5e5e5e" stroke-width="1" />
<line x1="261.5" y1="311.5" x2="258.8" y2="311.5" stroke="#5e5e5e" stroke-width="1" />
<line x1="261.5" y1="228.5" x2="259.7" y2="228.5" stroke="#5e5e5e" stroke-width="1" />
<line x1="261.5" y1="261.5" x2="259.7" y2="261.5" stroke="#5e5e5e" stroke-width="1" />
<line x1="261.5" y1="294.5" x2="259.7" y2="294.5" stroke="#5e5e5e" stroke-width="1" />
<line x1="261.5" y1="327.5" x2="259.7" y2="327.5" stroke="#5e5e5e" stroke-width="1" />
<text x="261.5" y="346.2" font-size="8.7" text-anchor="middle" fill="#000" >2021/1/1</text>
<text x="295.4" y="346.2" font-size="8.7" text-anchor="middle" fill="#000" >2021/4/1</text>
<text x="328.5" y="346.2" font-size="8.7" text-anchor="middle" fill="#000" >2021/7/1</text>
<text x="361.5" y="346.2" font-size="8.7" text-anchor="middle" fill="#000" >2021/10/1</text>
<text x="395.3" y="346.2" font-size="8.7" text-anchor="middle" fill="#000" >2022/1/1</text>
<text x="428.5" y="346.2" font-size="8.7" text-anchor="middle" fill="#000" >2022/4/1</text>
<text x="256.5" y="214.9" font-size="8.6" text-anchor="end" fill="#000" >9.77</text>
<text x="256.5" y="247.9" font-size="8.6" text-anchor="end" fill="#000" >9.76</text>
<text x="256.5" y="280.8" font-size="8.6" text-anchor="end" fill="#000" >9.75</text>
<text x="256.5" y="313.8" font-size="8.6" text-anchor="end" fill="#000" >9.74</text>
<text x="266.3" y="189.9" font-size="12.2" text-anchor="middle" fill="#000" >(e)</text>
<text x="357.2" y="206.8" font-size="10" text-anchor="middle" fill="#000" >Delingha groundwater temperature</text>
<text x="355.6" y="355.6" font-size="11.1" text-anchor="middle" fill="#000" >Date</text>
<text transform="translate(240,269) rotate(-90)" font-size="11.3" text-anchor="middle">T/<tspan font-size="7" dy="-4">o</tspan><tspan dy="4">C</tspan></text>
<polygon points="261.5,216.5 261.9,214.2 262.3,215.3 262.7,217 263.1,216.9 263.5,216.5 263.9,218.3 264.3,218.4 264.7,215.8 265.1,218 265.6,218.6 266,219.3 266.4,218.6 266.8,219.4 267.2,220.3 267.6,219.1 268,219.8 268.4,218.1 268.8,220.2 269.2,218.7 269.6,219.3 270,221.8 270.4,222.1 270.8,221 271.2,222.1 271.6,222.7 272,220 272.4,222.8 272.9,222.8 273.3,222.3 273.7,221.3 274.1,224.3 274.5,221.8 274.9,222.5 275.3,224 275.7,224.7 276.1,222.5 276.5,225.2 276.9,226 277.3,225.3 277.7,225 278.1,226.5 278.5,226.4 278.9,225.7 279.3,227.1 279.7,227.7 280.1,226.2 280.6,226.5 281,228.1 281.4,227.1 281.8,228.7 282.2,227.8 282.6,228.8 283,228.9 283.4,229.6 283.8,229.8 284.2,229.7 284.6,228.8 285,230 285.4,230.5 285.8,230.7 286.2,230.8 286.6,230.9 287,230.9 287.4,232.1 287.9,231 288.3,229.4 288.7,232.3 289.1,232 289.5,232.1 289.9,232.6 290.3,232.4 290.7,232.9 291.1,231.7 291.5,234.2 291.9,234.3 292.3,233.2 292.7,234.3 293.1,235 293.5,235.1 293.9,232.5 294.3,232.6 294.7,232.5 295.1,236.3 295.6,235.8 296,236.6 296.4,236.9 296.8,237.1 297.2,235.1 297.6,236.9 298,237.5 298.4,235.8 298.8,237.8 299.2,237.8 299.6,238.5 300,239 300.4,238.1 300.8,239.2 301.2,239.6 301.6,237.6 302,240.7 302.4,240.9 302.8,240.9 303.2,241.4 303.6,240.2 304,239.5 304.4,241.7 304.9,240.7 305.3,243.1 305.7,242.4 306.1,242.5 306.5,242.3 306.9,244.3 307.3,243.4 307.7,244.1 308.1,244.2 308.5,245.2 308.9,245.7 309.3,245.1 309.7,245.1 310.1,245.6 310.5,247 310.9,245.9 311.4,246.5 311.8,246.4 312.2,246.3 312.6,247.7 313.1,246.7 313.5,247.3 313.9,242.6 314.3,243.6 314.8,244.6 315.2,244.6 315.7,243.2 316.1,244.2 316.6,244.5 317,244.1 317.5,244.2 318,250.5 318.5,251.9 319,252.4 319.4,252.9 319.8,252.7 320.2,252.5 320.6,252.1 321,252 321.5,251.9 321.9,251.7 322.3,252.9 322.7,252.3 323.1,253.2 323.5,252.7 323.9,252.8 324.3,253 324.7,252.7 325.1,253 325.5,253.7 326,252.9 326.4,253.4 326.8,252.2 327.2,253.9 327.6,253 328,252.6 328.4,253.9 328.8,252.4 329.2,251.1 329.6,253.7 330,253.9 330.4,254 330.8,253.5 331.2,253.7 331.6,252.7 332,252.5 332.4,253.4 332.8,253.1 333.2,253.7 333.6,252.9 334,252.6 334.4,254 334.8,253.5 335.2,253.2 335.6,254 336,254.3 336.4,253.1 336.8,254.1 337.2,253.3 337.6,254.2 338,252.8 338.4,254.4 338.8,255.5 339.2,255.7 339.7,255.8 340.1,257 340.5,256.3 340.9,256.4 341.3,255.9 341.7,257.5 342.1,259.3 342.6,259.5 343,259.1 343.4,259.8 343.8,261.2 344.2,261.9 344.6,262.7 345.1,261.6 345.5,263.5 345.9,263.7 346.3,263.3 346.8,263.6 347.2,264.2 347.6,265.8 348,265.8 348.5,265.5 348.9,266.6 349.3,265.6 349.7,266.6 350.2,267.3 350.6,267.6 351,269.4 351.4,269.7 351.8,270.5 352.2,270.3 352.6,271.2 353.1,270.5 353.5,271.3 353.9,271.8 354.3,271.2 354.7,269.6 355.1,272.7 355.5,270.8 355.9,270.8 356.3,273.9 356.8,271.8 357.2,273.9 357.6,274 358,274.4 358.4,274.9 358.8,275.9 359.2,276.5 359.6,277 360,277.4 360.4,276.2 360.8,276.9 361.3,277.5 361.7,278.5 362.1,277.4 362.5,278.2 362.9,279.2 363.3,278.5 363.7,279 364.1,278.4 364.5,279.1 364.9,279.8 365.3,277.3 365.7,279.9 366.2,280 366.6,281.4 367,282 367.4,281.1 367.8,282.4 368.2,281.3 368.6,282.9 369,281.9 369.4,283 369.8,282.6 370.3,283.1 370.7,281.8 371.1,283.7 371.5,284.9 371.9,294.6 372.3,296.5 372.7,295.9 373.1,294.5 373.5,295.7 373.9,297.4 374.3,296.4 374.7,295 375.2,294.8 375.6,297.9 376,297.6 376.4,296.7 376.8,298.2 377.2,298.3 377.6,297.1 378,298.2 378.4,297.5 378.8,297.8 379.2,298.5 379.7,297.5 380.1,297.9 380.5,297.7 380.9,298.3 381.3,298.7 381.7,298.9 382.1,297.2 382.5,297.5 383,297.2 383.4,298.9 383.8,300.2 384.2,296.7 384.6,296.9 385,300.8 385.4,300.2 385.8,301.4 386.2,299.1 386.6,301.7 387,300.8 387.4,302.7 387.8,302.5 387.8,309.2 387.4,308.3 387,308.2 386.6,308.3 386.2,307.5 385.8,306.6 385.4,307.6 385,305.9 384.6,307.2 384.2,306.8 383.8,306.1 383.4,306.1 383,307.3 382.5,304.8 382.1,305.7 381.7,305.8 381.3,305.9 380.9,305.5 380.5,304.7 380.1,305.7 379.7,303.9 379.2,304.9 378.8,304.4 378.4,305 378,303.5 377.6,306.3 377.2,304.7 376.8,304.6 376.4,303.2 376,303.9 375.6,303.7 375.2,303 374.7,304.1 374.3,303.1 373.9,303.4 373.5,303.5 373.1,302.2 372.7,302.7 372.3,302.8 371.9,302.2 371.5,292.5 371.1,290.4 370.7,289.3 370.3,290.8 369.8,288.8 369.4,289.8 369,288.7 368.6,289.7 368.2,288.6 367.8,288.3 367.4,288.7 367,287.2 366.6,287 366.2,286.6 365.7,286.3 365.3,287.4 364.9,287.2 364.5,286.7 364.1,285.2 363.7,284.8 363.3,284.6 362.9,287.1 362.5,284.1 362.1,285 361.7,284.5 361.3,284.3 360.8,283.4 360.4,282.8 360,285.5 359.6,282.4 359.2,282.5 358.8,283 358.4,281.5 358,281.5 357.6,284.4 357.2,281.8 356.8,281.4 356.3,280.3 355.9,280.6 355.5,278.9 355.1,279.7 354.7,278.3 354.3,279.3 353.9,278.2 353.5,277.3 353.1,276.6 352.6,276.2 352.2,276.1 351.8,275.9 351.4,276 351,275.3 350.6,274.3 350.2,274.5 349.7,274.2 349.3,273.2 348.9,273.7 348.5,275.2 348,273.1 347.6,272.4 347.2,270.7 346.8,270.4 346.3,270.9 345.9,269.7 345.5,269.4 345.1,272 344.6,268.5 344.2,270.6 343.8,269.5 343.4,267.5 343,265.9 342.6,265.5 342.1,265.4 341.7,267.3 341.3,264 340.9,264.1 340.5,264 340.1,262 339.7,265 339.2,263.7 338.8,261.2 338.4,261.3 338,259.5 337.6,259.3 337.2,259.9 336.8,263.1 336.4,261 336,259.9 335.6,263.2 335.2,260.9 334.8,259.5 334.4,260.5 334,259.7 333.6,260.5 333.2,259.9 332.8,263 332.4,260.3 332,262.5 331.6,259.9 331.2,259.9 330.8,261.6 330.4,259.1 330,259.4 329.6,260.6 329.2,259.9 328.8,260.2 328.4,259.2 328,260.4 327.6,258.9 327.2,260.1 326.8,262.5 326.4,259.1 326,259.8 325.5,259.1 325.1,259.5 324.7,260.1 324.3,258.6 323.9,260.9 323.5,258.7 323.1,258.6 322.7,258.8 322.3,259.5 321.9,258.4 321.5,261.5 321,258.1 320.6,259.6 320.2,259.7 319.8,258.4 319.4,259.4 319,260.8 318.5,258.1 318,258.3 317.5,250.4 317,249.7 316.6,250.1 316.1,253.2 315.7,250.4 315.2,250.6 314.8,251.5 314.3,251.6 313.9,253.1 313.5,253.1 313.1,253.3 312.6,253.1 312.2,255.2 311.8,252.5 311.4,253.4 310.9,253.8 310.5,252.4 310.1,251.7 309.7,252.6 309.3,254.4 308.9,252.2 308.5,250.5 308.1,251.7 307.7,251.3 307.3,251 306.9,250.7 306.5,249.2 306.1,250.2 305.7,249.3 305.3,248 304.9,248.2 304.4,248.3 304,247.7 303.6,247.8 303.2,247.3 302.8,246.6 302.4,247.4 302,246.9 301.6,245.9 301.2,246.5 300.8,245.6 300.4,245.2 300,247.2 299.6,243.8 299.2,246 298.8,243.7 298.4,243.3 298,243 297.6,243.1 297.2,243.8 296.8,243.8 296.4,242 296,243.3 295.6,243 295.1,242.6 294.7,242.7 294.3,241.6 293.9,241.3 293.5,243 293.1,240.8 292.7,240.7 292.3,241.3 291.9,240.7 291.5,240.4 291.1,239.7 290.7,240.4 290.3,240.1 289.9,239.2 289.5,238.9 289.1,239.2 288.7,238.1 288.3,238.8 287.9,238.1 287.4,238.3 287,236.7 286.6,238.1 286.2,237 285.8,236.8 285.4,236.3 285,237.1 284.6,236.5 284.2,238.3 283.8,236.4 283.4,234.9 283,236.1 282.6,235.6 282.2,234.8 281.8,234.9 281.4,234.3 281,233.6 280.6,233.6 280.1,233.5 279.7,233 279.3,235.4 278.9,233.5 278.5,232.2 278.1,233 277.7,232.6 277.3,231.1 276.9,232.6 276.5,231.1 276.1,233.5 275.7,230.4 275.3,230.2 274.9,230.3 274.5,229.5 274.1,229.3 273.7,229.7 273.3,230.1 272.9,231.8 272.4,229.3 272,228.5 271.6,228.2 271.2,229.1 270.8,228.9 270.4,227.9 270,227.3 269.6,226.8 269.2,227.6 268.8,227.9 268.4,227.1 268,226.5 267.6,226 267.2,226.4 266.8,226.3 266.4,227.4 266,225.5 265.6,224.8 265.1,224.8 264.7,223.9 264.3,224.6 263.9,223.5 263.5,223.2 263.1,224.5 262.7,224.1 262.3,225.4 261.9,222.8 261.5,224.4" fill="#000"/>
<polygon points="393.4,298.6 393.9,300 394.5,300.8 395,301.2 395.5,301.6 396,300.5 396.4,302.5 396.8,302.1 397.2,301.9 397.6,302.9 398,302.9 398.5,302.8 399,303.2 399.5,302.9 400,303.5 400.5,304.1 400.9,304.3 401.3,305.2 401.7,305 402.2,303.4 402.6,303.9 403,303.3 403.4,305.2 403.8,304.6 404.2,305.8 404.6,304.3 405,305.4 405.5,304.7 405.9,305.1 406.3,306.2 406.7,305.2 407.1,305.3 407.5,306.2 407.9,303.5 408.3,306.4 408.8,306.6 409.2,305.8 409.6,306.1 410,306.2 410.4,306.3 410.8,307.1 411.2,306.5 411.6,305.4 412,306.5 412.4,305.7 412.8,307 413.2,305.8 413.6,306.4 414,305.9 414.4,304.6 414.8,307.2 415.2,306.9 415.6,303.8 416,306.1 416.4,304.5 416.8,304.5 417.2,307.6 417.6,306.3 418,307 418.4,306.7 418.8,307.3 419.2,307.3 419.6,307.5 420,307.5 420.4,308.5 420.8,307.3 421.2,306.8 421.6,308.7 422,308.1 422.4,307.1 422.8,308.2 423.2,307.9 423.6,308.2 424,307.4 424.4,308.1 424.8,308.6 425.2,305.8 425.6,305.4 426,309.4 426.4,308.1 426.8,308.3 427.2,308.2 427.6,308.1 428,308.2 428.4,308.1 428.8,309.2 429.2,306.4 429.6,309.9 430,306 430.4,308.9 430.8,309.3 431.2,307.7 431.6,307.8 432,310.1 432.4,306.8 432.8,309.1 433.2,309.3 433.6,310.1 434,310.7 434.4,310.2 434.8,309.9 435.2,310.1 435.6,310.3 436,310.3 436.4,307.8 436.8,309.8 437.2,309.3 437.6,310.5 438,310.2 438.4,311.5 438.8,307.8 439.2,310 439.6,310 440,311.1 440.4,311.5 440.8,310.7 441.3,311.5 441.7,311.9 442.1,311 442.5,311.3 442.9,312 443.3,311.6 443.8,308.3 444.2,311 444.6,309.4 445,311 445.4,311.2 445.9,311.2 446.3,310.4 446.7,311.9 447.1,311.3 447.5,313 447.9,312 448.4,312.4 448.8,313 449.2,311.7 449.2,323.5 448.8,319.5 448.4,319.7 447.9,321.2 447.5,321.1 447.1,319.2 446.7,320.8 446.3,321.5 445.9,323 445.4,319.7 445,319.7 444.6,318.7 444.2,318.9 443.8,319.2 443.3,321.7 442.9,319.7 442.5,319.4 442.1,320 441.7,319.7 441.3,319.5 440.8,319.3 440.4,319.4 440,318 439.6,319.3 439.2,319.4 438.8,319.4 438.4,318 438,319.2 437.6,319.1 437.2,319 436.8,318.9 436.4,317.7 436,318.7 435.6,318.3 435.2,318.3 434.8,317 434.4,318.3 434,320.2 433.6,320.8 433.2,318 432.8,320.4 432.4,316.8 432,316.4 431.6,318.2 431.2,316.2 430.8,316.3 430.4,317.9 430,316.9 429.6,316.2 429.2,317.7 428.8,316.7 428.4,317.3 428,317.5 427.6,318 427.2,316 426.8,316.8 426.4,317 426,315.8 425.6,316.4 425.2,316.8 424.8,315.9 424.4,317.1 424,315.9 423.6,316.1 423.2,316.5 422.8,316.6 422.4,314.9 422,316.8 421.6,316 421.2,314.8 420.8,316.3 420.4,316.2 420,315.5 419.6,314.6 419.2,314.9 418.8,315.8 418.4,315.9 418,315.8 417.6,315.7 417.2,315.6 416.8,314.5 416.4,314 416,315.5 415.6,315.5 415.2,315.1 414.8,314.2 414.4,314 414,314.1 413.6,313.8 413.2,315.1 412.8,315.3 412.4,314.6 412,313.7 411.6,314.3 411.2,313.7 410.8,314 410.4,313.2 410,314.5 409.6,314.8 409.2,314.1 408.8,314 408.3,314.3 407.9,314.6 407.5,313.9 407.1,313.4 406.7,313 406.3,313.3 405.9,313.3 405.5,313.7 405,312.7 404.6,313 404.2,313.3 403.8,313 403.4,312 403,313.2 402.6,313.4 402.2,313.7 401.7,312.1 401.3,312.3 400.9,313.1 400.5,311.7 400,311.1 399.5,310.2 399,309.1 398.5,309.2 398,308.8 397.6,307.6 397.2,308.3 396.8,306.8 396.4,306.9 396,306.1 395.5,305.7 395,304.4 394.5,303.6 393.9,302.2 393.4,301" fill="#000"/>
<polygon points="388.1,307 388.3,280 388.5,258 389.1,247 389.8,243 390.5,245.6 391.3,244.8 392.2,250 392.8,262 393.1,285 393.4,297 393.5,303 392.7,299 392.5,280 392.3,268 391.7,263.5 390.7,264.5 389.7,262.5 389.2,268 389.1,285 388.9,307" fill="#000"/>
<text x="315.3" y="217.1" font-size="8.0" text-anchor="middle" fill="#000" >MDEQ</text>
<text x="314.6" y="227.3" font-size="8.0" text-anchor="middle" fill="#000" >(322 km)</text>
<line x1="314.9" y1="228" x2="314.9" y2="238.5" stroke="#f00" stroke-width="1.5" />
<polygon points="314.9,243.2 313,238 316.8,238" fill="#f00"/>
<text x="408.7" y="270.4" font-size="8.0" text-anchor="middle" fill="#000" >MYEQ</text>
<text x="407.8" y="280.2" font-size="8.0" text-anchor="middle" fill="#000" >(344 km)</text>
<line x1="401.1" y1="285.3" x2="401.1" y2="298.9" stroke="#f00" stroke-width="1.5" />
<polygon points="401.1,303.6 399.2,298.4 403,298.4" fill="#f00"/>
<text x="432.4" y="285.8" font-size="8.0" text-anchor="middle" fill="#000" >DLHEQ</text>
<text x="432.3" y="296.8" font-size="8.0" text-anchor="middle" fill="#000" >(124 km)</text>
<line x1="430.9" y1="292.6" x2="430.9" y2="303.5" stroke="#f00" stroke-width="1.5" />
<polygon points="430.9,308.2 429,303 432.8,303" fill="#f00"/>
<rect x="386.4" y="239.1" width="13" height="72.7" fill="rgba(238,135,118,0.4)"/>
<text x="383.5" y="278.9" font-size="10" text-anchor="middle" fill="#000" >0.02</text>
<line x1="494" y1="196.5" x2="683.5" y2="196.5" stroke="#5e5e5e" stroke-width="1" />
<line x1="494" y1="335.5" x2="683.5" y2="335.5" stroke="#5e5e5e" stroke-width="1" />
<line x1="494.5" y1="196.5" x2="494.5" y2="335.5" stroke="#5e5e5e" stroke-width="1" />
<line x1="683" y1="196.5" x2="683" y2="335.5" stroke="#5e5e5e" stroke-width="1" />
<line x1="494.5" y1="335.5" x2="494.5" y2="338.8" stroke="#5e5e5e" stroke-width="1" />
<line x1="527.5" y1="335.5" x2="527.5" y2="338.8" stroke="#5e5e5e" stroke-width="1" />
<line x1="560.5" y1="335.5" x2="560.5" y2="338.8" stroke="#5e5e5e" stroke-width="1" />
<line x1="592.5" y1="335.5" x2="592.5" y2="338.8" stroke="#5e5e5e" stroke-width="1" />
<line x1="625.5" y1="335.5" x2="625.5" y2="338.8" stroke="#5e5e5e" stroke-width="1" />
<line x1="658.5" y1="335.5" x2="658.5" y2="338.8" stroke="#5e5e5e" stroke-width="1" />
<line x1="510.5" y1="335.5" x2="510.5" y2="337.7" stroke="#5e5e5e" stroke-width="1" />
<line x1="543.5" y1="335.5" x2="543.5" y2="337.7" stroke="#5e5e5e" stroke-width="1" />
<line x1="576.5" y1="335.5" x2="576.5" y2="337.7" stroke="#5e5e5e" stroke-width="1" />
<line x1="609.5" y1="335.5" x2="609.5" y2="337.7" stroke="#5e5e5e" stroke-width="1" />
<line x1="642.5" y1="335.5" x2="642.5" y2="337.7" stroke="#5e5e5e" stroke-width="1" />
<line x1="674.5" y1="335.5" x2="674.5" y2="337.7" stroke="#5e5e5e" stroke-width="1" />
<line x1="494.5" y1="196.5" x2="491.2" y2="196.5" stroke="#5e5e5e" stroke-width="1" />
<line x1="494.5" y1="221.5" x2="491.2" y2="221.5" stroke="#5e5e5e" stroke-width="1" />
<line x1="494.5" y1="246.5" x2="491.2" y2="246.5" stroke="#5e5e5e" stroke-width="1" />
<line x1="494.5" y1="272.5" x2="491.2" y2="272.5" stroke="#5e5e5e" stroke-width="1" />
<line x1="494.5" y1="297.5" x2="491.2" y2="297.5" stroke="#5e5e5e" stroke-width="1" />
<line x1="494.5" y1="322.5" x2="491.2" y2="322.5" stroke="#5e5e5e" stroke-width="1" />
<line x1="494.5" y1="208.5" x2="492.3" y2="208.5" stroke="#5e5e5e" stroke-width="1" />
<line x1="494.5" y1="234.5" x2="492.3" y2="234.5" stroke="#5e5e5e" stroke-width="1" />
<line x1="494.5" y1="259.5" x2="492.3" y2="259.5" stroke="#5e5e5e" stroke-width="1" />
<line x1="494.5" y1="284.5" x2="492.3" y2="284.5" stroke="#5e5e5e" stroke-width="1" />
<line x1="494.5" y1="310.5" x2="492.3" y2="310.5" stroke="#5e5e5e" stroke-width="1" />
<text x="494.5" y="345.9" font-size="7.8" text-anchor="middle" fill="#000" >2017/1/1</text>
<text x="527.3" y="345.9" font-size="7.8" text-anchor="middle" fill="#000" >2018/1/1</text>
<text x="560.1" y="345.9" font-size="7.8" text-anchor="middle" fill="#000" >2019/1/1</text>
<text x="592.9" y="345.9" font-size="7.8" text-anchor="middle" fill="#000" >2020/1/1</text>
<text x="625.7" y="345.9" font-size="7.8" text-anchor="middle" fill="#000" >2021/1/1</text>
<text x="658.5" y="345.9" font-size="7.8" text-anchor="middle" fill="#000" >2022/1/1</text>
<text x="489.5" y="199.3" font-size="7.6" text-anchor="end" fill="#000" >19.5</text>
<text x="489.5" y="224.6" font-size="7.6" text-anchor="end" fill="#000" >20.0</text>
<text x="489.5" y="249.9" font-size="7.6" text-anchor="end" fill="#000" >20.5</text>
<text x="489.5" y="275.2" font-size="7.6" text-anchor="end" fill="#000" >21.0</text>
<text x="489.5" y="300.5" font-size="7.6" text-anchor="end" fill="#000" >21.5</text>
<text x="489.5" y="325.8" font-size="7.6" text-anchor="end" fill="#000" >22.0</text>
<rect x="473.4" y="242" width="4.3" height="10" fill="#fff"/>
<text x="498.5" y="190.1" font-size="12.2" text-anchor="middle" fill="#000" >(f)</text>
<text x="593.4" y="330.6" font-size="9.9" text-anchor="middle" fill="#000" >Pingan groundwater level</text>
<text x="590.8" y="355.5" font-size="11.1" text-anchor="middle" fill="#000" >Date</text>
<text transform="translate(472.5,265) rotate(-90)" font-size="11.3" text-anchor="middle">H/m</text>
<path d="M494.4,310.2C495.1,311.3 495,311.6 496.5,313.5C498,315.4 497.1,314.4 498.8,316C500.5,317.6 499.6,316.2 501.7,318.2C503.8,320.2 502.8,319.6 505,322C507.2,324.4 506.5,325.5 508.3,325.5C510.1,325.5 508.8,325.6 510.5,322C512.2,318.4 511.2,319.8 513.4,314.6C515.6,309.4 515.1,311.1 517,306.5C518.9,301.9 517.7,304.4 519.2,300.9C520.7,297.4 520,298.7 521.5,296C523,293.3 522.4,294.1 523.6,292.8C524.8,291.5 524,292.3 525,292C526,291.7 525.3,291.3 526.5,291.8C527.7,292.3 527,292.2 528.5,293.5C530,294.8 529.6,295 530.9,295.8C532.2,296.6 531.3,295.8 532.5,296C533.7,296.2 533.1,294.9 534.5,296.5C535.9,298.1 535,298.7 536.7,300.9C538.4,303.1 537.9,301.1 539.6,303.1C541.3,305.1 540.3,304.3 541.8,307C543.3,309.7 542.6,311.1 544,311.1C545.4,311.1 544.5,310.4 546,307C547.5,303.6 546.9,305.6 548.4,300.9C549.9,296.2 549,298.1 550.5,293C552,287.9 551.4,289.3 552.8,285.5C554.2,281.7 553.6,283.3 554.8,281.5C556,279.7 555.2,279.4 556.4,280.1C557.6,280.8 557,280.7 558.5,283.5C560,286.3 559.2,285.7 560.8,288.5C562.4,291.3 561.6,289.6 563.3,292C565,294.4 564.3,293.3 565.9,295.8C567.5,298.3 566.5,297.1 568,299.5C569.5,301.9 568.8,301.4 570.3,303.1C571.8,304.8 571,303.8 572.5,304.5C574,305.2 573,304.1 574.7,305.3C576.4,306.5 575.6,306.3 577.5,308C579.4,309.7 578.3,309.5 580.5,310.4C582.7,311.3 581.8,310.7 584,310.8C586.2,310.9 585.2,310.7 587,310.6C588.8,310.5 588,312.7 589.3,310.4C590.6,308.1 589.9,310.6 590.8,303.8C591.7,297 591.1,302.9 592,290C592.9,277.1 592.6,279.3 593.5,265C594.4,250.7 594,256.2 594.8,247C595.6,237.8 595.2,241.5 596,237.4C596.8,233.3 596.3,235.7 597.3,234.6C598.3,233.5 597.8,234.1 598.9,234C600,233.9 599.5,233.9 600.5,234.2C601.5,234.5 601.1,232.1 601.8,235C602.5,237.9 602.1,236.6 602.6,243C603.1,249.4 602.7,243.7 603.2,254.2C603.7,264.7 603.3,262.7 604,274.6C604.7,286.5 604.3,282.2 605.3,290C606.3,297.8 605.9,298 606.9,298C607.9,298 607.3,297.8 608.3,290C609.3,282.2 608.9,287.9 609.8,274.6C610.7,261.3 610.3,264.1 611,250C611.7,235.9 611.2,243.3 612,232.3C612.8,221.3 612.6,225.1 613.5,217C614.4,208.9 614.1,211.9 614.8,208C615.5,204.1 615,204 615.6,205.3C616.2,206.6 615.8,203 616.5,212C617.2,221 617,219 617.8,232.3C618.6,245.6 618.3,240.8 619,252C619.7,263.2 619.3,260.8 620,265.9C620.7,271 620.4,268.1 621.2,267.3C622,266.5 621.4,267.1 622.5,263.5C623.6,259.9 623.3,259.6 624.4,256.4C625.5,253.2 624.9,255.1 625.8,254C626.7,252.9 626.1,252.9 627,253.2C627.9,253.5 627.4,253 628.5,254.8C629.6,256.6 629,255.9 630.3,258.6C631.6,261.3 631,260.1 632.4,263C633.8,265.9 633.1,264.6 634.6,267.3C636.1,270 635.4,268.8 637,271C638.6,273.2 638,273.7 639.3,273.9C640.6,274.1 639.9,273.7 641,271.5C642.1,269.3 641.6,270.5 642.7,267.3C643.8,264.1 643.2,265.2 644.2,262C645.2,258.8 644.8,258.7 645.6,257.8C646.4,256.9 646,258.5 646.7,259.2C647.4,259.9 647,260.4 647.8,260C648.6,259.6 648.3,259 649,258C649.7,257 649.2,257 650,257.1C650.8,257.2 650.5,257.3 651.5,258.3C652.5,259.3 651.8,258.3 652.9,260C654,261.7 653.5,261.1 654.7,263.5C655.9,265.9 655.3,264.9 656.5,267.3C657.7,269.7 657.1,268.6 658.3,270.8C659.5,273 658.5,271.9 660.2,273.9C661.9,275.9 661.3,275.1 663.5,276.8C665.7,278.5 664.7,277.6 666.8,279C668.9,280.4 667.9,279.8 669.8,281C671.7,282.2 671.7,282.1 672.6,282.6" fill="none" stroke="#222" stroke-width="0.55"/>
<line x1="497.3" y1="304.8" x2="646.5" y2="245.6" stroke="#f66" stroke-width="0.7" stroke-dasharray="2.2 2"/>
<line x1="506.8" y1="327.7" x2="658" y2="268.7" stroke="#f66" stroke-width="0.7" stroke-dasharray="2.2 2"/>
<rect x="574" y="202.8" width="46.7" height="111.8" fill="none" stroke="#777" stroke-width="1" stroke-dasharray="1 2.3"/>
<text x="573.6" y="210.4" font-size="8.0" text-anchor="start" fill="#000" >Shaft Lining</text>
<text x="573.6" y="220.2" font-size="8.0" text-anchor="start" fill="#000" >rupture</text>
<text x="665.3" y="250.7" font-size="8.4" text-anchor="middle" fill="#000" >DLHEQ</text>
<text x="666.8" y="261.4" font-size="8.4" text-anchor="middle" fill="#000" >(477 km)</text>
<line x1="667" y1="263.2" x2="667" y2="273.5" stroke="#f00" stroke-width="1.5" />
<polygon points="667,278.2 665.1,273 668.9,273" fill="#f00"/>
<line x1="639" y1="274.3" x2="639" y2="288.1" stroke="#f00" stroke-width="1.5" />
<polygon points="639,292.8 637.1,287.6 640.9,287.6" fill="#f00"/>
<line x1="660.2" y1="274.3" x2="660.2" y2="288.1" stroke="#f00" stroke-width="1.5" />
<polygon points="660.2,292.8 658.3,287.6 662.1,287.6" fill="#f00"/>
<text x="634.9" y="300.2" font-size="8.4" text-anchor="middle" fill="#000" >MDEQ</text>
<text x="666.8" y="300.2" font-size="8.4" text-anchor="middle" fill="#000" >MYEQ</text>
<text x="636" y="310.8" font-size="8.6" text-anchor="middle" fill="#000" >(402 km)</text>
<text x="667.4" y="310.8" font-size="8.6" text-anchor="middle" fill="#000" >(160 km)</text>
<rect x="641.6" y="246.9" width="16.4" height="27.7" fill="rgba(238,135,118,0.4)"/>
</svg></body></html>
